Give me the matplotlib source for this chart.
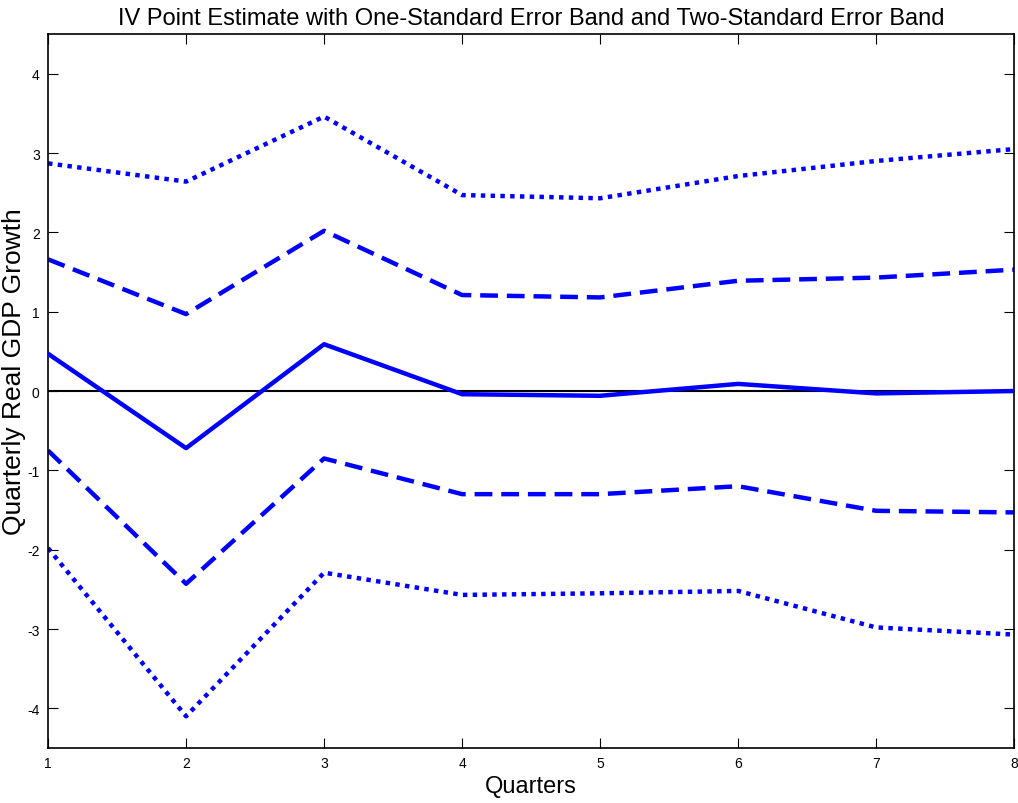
import numpy as np
import matplotlib.pyplot as plt

plt.rcParams['font.family'] = ['Liberation Sans', 'DejaVu Sans']
plt.rcParams['axes.unicode_minus'] = False

quarters = [1, 2, 3, 4, 5, 6, 7, 8]
point_est = [0.47, -0.72, 0.59, -0.04, -0.06, 0.09, -0.03, 0.00]
upper_1se = [1.66, 0.97, 2.02, 1.21, 1.18, 1.39, 1.43, 1.53]
lower_1se = [-0.75, -2.43, -0.85, -1.30, -1.30, -1.20, -1.51, -1.53]
upper_2se = [2.87, 2.64, 3.46, 2.47, 2.43, 2.71, 2.90, 3.05]
lower_2se = [-1.98, -4.10, -2.29, -2.57, -2.55, -2.52, -2.98, -3.07]

fig = plt.figure(figsize=(10.18, 8.04), dpi=100)
ax = fig.add_axes([0.0472, 0.0684, 0.949, 0.888])

blue = '#0000ff'
lw = 3.2
ax.axhline(0, color='black', lw=1.5, zorder=1)
ax.plot(quarters, point_est, color=blue, lw=lw, zorder=3)
ax.plot(quarters, upper_1se, color=blue, lw=lw, ls=(0, (4, 2)))
ax.plot(quarters, lower_1se, color=blue, lw=lw, ls=(0, (4, 2)))
ax.plot(quarters, upper_2se, color=blue, lw=lw, ls=(0, (1, 1.2)))
ax.plot(quarters, lower_2se, color=blue, lw=lw, ls=(0, (1, 1.2)))

ax.set_xlim(1, 8)
ax.set_ylim(-4.5, 4.5)
ax.set_xticks(quarters)
ax.set_yticks([-4, -3, -2, -1, 0, 1, 2, 3, 4])
ax.tick_params(direction='in', top=True, right=True, length=7, width=0.8, labelsize=10, pad=6)
for s in ax.spines.values():
    s.set_linewidth(1.2)

ax.set_title('IV Point Estimate with One-Standard Error Band and Two-Standard Error Band', fontsize=17, pad=7)
ax.set_xlabel('Quarters', fontsize=17, labelpad=3)
ax.set_ylabel('Quarterly Real GDP Growth', fontsize=19)
ax.yaxis.set_label_coords(-0.023, 0.528)

fig.savefig('out.png', dpi=100)
